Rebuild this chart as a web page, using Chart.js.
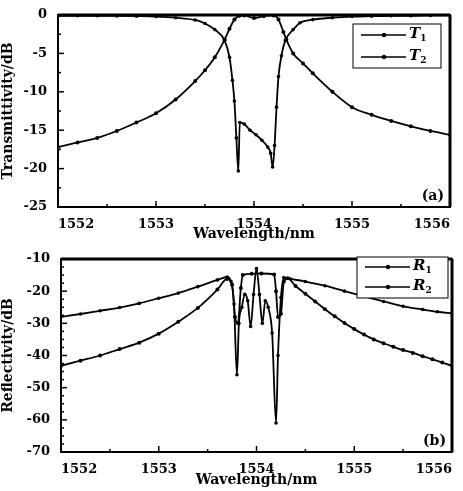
<!DOCTYPE html>
<html lang="en">
<head>
<meta charset="UTF-8">
<title>Transmittivity and reflectivity vs wavelength</title>
<script src="https://cdn.jsdelivr.net/npm/chart.js@4/dist/chart.umd.min.js"></script>
<style>
    body { margin: 0; background: #fff; }
    .panel { position: relative; width: 463px; }
    #panelA { height: 245px; }
    #panelB { height: 246px; }
</style>
</head>
<body>
<div class="panel" id="panelA"><canvas id="chartA"></canvas></div>
<div class="panel" id="panelB"><canvas id="chartB"></canvas></div>
<script>
// (a) transmittivity, dB
const T1_WL = [1552.0, 1552.2, 1552.4, 1552.6, 1552.8, 1553.0, 1553.2, 1553.4, 1553.5, 1553.6, 1553.7, 1553.75, 1553.78, 1553.8, 1553.82, 1553.84, 1553.855, 1553.9, 1553.96, 1554.02, 1554.08, 1554.14, 1554.17, 1554.19, 1554.21, 1554.23, 1554.25, 1554.28, 1554.32, 1554.4, 1554.47, 1554.6, 1554.8, 1555.0, 1555.2, 1555.4, 1555.6, 1555.8, 1556.0];
const T1_DB = [-0.1, -0.1, -0.1, -0.12, -0.15, -0.2, -0.35, -0.65, -1.1, -1.9, -3.3, -5.5, -8.5, -11.2, -16, -20.3, -14.0, -14.2, -15.0, -15.6, -16.3, -17.2, -18, -19.8, -17, -12, -8, -5.3, -3.3, -1.9, -1.0, -0.6, -0.35, -0.2, -0.15, -0.1, -0.1, -0.05, -0.05];
const T2_WL = [1552.0, 1552.2, 1552.4, 1552.6, 1552.8, 1553.0, 1553.2, 1553.4, 1553.5, 1553.6, 1553.7, 1553.75, 1553.8, 1553.85, 1553.9, 1554.0, 1554.1, 1554.2, 1554.25, 1554.3, 1554.33, 1554.4, 1554.5, 1554.6, 1554.8, 1555.0, 1555.2, 1555.4, 1555.6, 1555.8, 1556.0];
const T2_DB = [-17.2, -16.6, -16.0, -15.1, -14.0, -12.8, -11.0, -8.6, -7.2, -5.5, -3.2, -1.8, -0.6, -0.1, -0.05, -0.4, -0.15, -0.05, -0.6, -2.2, -3.2, -5.0, -6.3, -7.6, -10.0, -12.0, -13.0, -13.8, -14.5, -15.1, -15.6];

// (b) reflectivity, dB
const R1_WL = [1552.0, 1552.2, 1552.4, 1552.6, 1552.8, 1553.0, 1553.2, 1553.4, 1553.6, 1553.7, 1553.74, 1553.77, 1553.8, 1553.82, 1553.85, 1553.88, 1553.91, 1553.94, 1553.97, 1554.0, 1554.03, 1554.06, 1554.09, 1554.12, 1554.16, 1554.2, 1554.22, 1554.25, 1554.28, 1554.35, 1554.5, 1554.7, 1554.9, 1555.1, 1555.3, 1555.5, 1555.7, 1555.85, 1556.0];
const R1_DB = [-28, -27.1, -26.1, -25.1, -23.8, -22.2, -20.6, -18.6, -16.5, -15.6, -17, -24, -46, -30, -25, -21, -23, -31, -21, -13, -21, -30, -23, -25, -33, -61, -40, -22, -15.8, -16.2, -17, -18.3, -20, -21.6, -23.2, -24.7, -25.7, -26.4, -26.9];
const R2_WL = [1552.0, 1552.2, 1552.4, 1552.6, 1552.8, 1553.0, 1553.2, 1553.4, 1553.6, 1553.7, 1553.75, 1553.78, 1553.81, 1553.84, 1553.86, 1553.95, 1554.05, 1554.18, 1554.2, 1554.22, 1554.25, 1554.28, 1554.32, 1554.4, 1554.5, 1554.6, 1554.7, 1554.8, 1554.9, 1555.0, 1555.1, 1555.2, 1555.3, 1555.4, 1555.5, 1555.6, 1555.7, 1555.8, 1555.9, 1556.0];
const R2_DB = [-43.2, -41.6, -40, -38, -36, -33.2, -29.5, -25.2, -19.5, -16.2, -18, -28, -30, -19, -15, -14.6, -14.5, -14.8, -20, -28, -27, -17, -16, -18.4, -20.8, -23.2, -25.6, -27.8, -29.9, -31.8, -33.5, -35, -36.2, -37.3, -38.3, -39.2, -40.2, -41.2, -42.2, -43.2];

const X_TICKS = [1552, 1553, 1554, 1555, 1556];
const T_TICKS = [0, -5, -10, -15, -20, -25];
const R_TICKS = [-10, -20, -30, -40, -50, -60, -70];

const SERIF = "'DejaVu Serif', 'Liberation Serif', serif";
const pts = (xs, ys) => xs.map((w, i) => ({ x: w, y: ys[i] }));

// frame, inward ticks, boxed legend and panel tag
const panelDecor = {
    id: 'panelDecor',
    afterDatasetsDraw(chart, args, opts) {
        const { ctx, chartArea: a, scales: { x, y } } = chart;
        ctx.save();
        ctx.strokeStyle = '#000';
        ctx.fillStyle = '#000';
        ctx.lineWidth = 1.5;
        const seg = (x1, y1, x2, y2) => { ctx.beginPath(); ctx.moveTo(x1, y1); ctx.lineTo(x2, y2); ctx.stroke(); };

        for (let v = x.min; v <= x.max + 1e-9; v += opts.minorX) {
            const px = x.getPixelForValue(v);
            const major = X_TICKS.some(t => Math.abs(t - v) < 1e-6);
            seg(px, a.bottom, px, a.bottom - (major ? 6 : 3));
        }
        for (let v = y.max; v >= y.min - 1e-9; v -= opts.minorY) {
            const py = y.getPixelForValue(v);
            const major = opts.majorY.some(t => Math.abs(t - v) < 1e-6);
            seg(a.left, py, a.left + (major ? 6 : 3), py);
        }

        ctx.lineWidth = 2;
        ctx.strokeRect(a.left, a.top, a.width, a.height);
        ctx.lineWidth = 3;
        seg(a.left, a.top, a.right, a.top);
        seg(a.right, a.top, a.right, a.bottom);

        // legend box
        const L = opts.legend;
        const bx = a.right - L.right, by = a.top + L.top;
        ctx.fillStyle = '#fff';
        ctx.fillRect(bx, by, L.w, L.h);
        ctx.lineWidth = 1;
        ctx.strokeRect(bx, by, L.w, L.h);
        ctx.fillStyle = '#000';
        chart.data.datasets.forEach((ds, i) => {
            const ry = by + L.rows[i];
            ctx.lineWidth = 1.5;
            seg(bx + 8, ry, bx + 53, ry);
            ctx.beginPath();
            ctx.arc(bx + 31, ry, 2.2, 0, Math.PI * 2);
            ctx.fill();
            ctx.textBaseline = 'middle';
            ctx.textAlign = 'left';
            ctx.font = "italic bold 15px " + SERIF;
            ctx.fillText(ds.label[0], bx + 56, ry - 1);
            const w = ctx.measureText(ds.label[0]).width;
            ctx.font = "bold 9px " + SERIF;
            ctx.fillText(ds.label.slice(1), bx + 56 + w, ry + 4);
        });

        ctx.font = "bold 14px " + SERIF;
        ctx.textAlign = 'right';
        ctx.textBaseline = 'alphabetic';
        ctx.fillText(opts.tag, a.right - 6, a.bottom - 7);
        ctx.restore();
    }
};

function makeChart(id, cfg) {
    const font = { family: SERIF, size: 13, weight: 'bold' };
    return new Chart(document.getElementById(id), {
        type: 'line',
        data: {
            datasets: cfg.series.map((s, i) => ({
                label: s.label,
                data: s.data,
                borderColor: '#000',
                backgroundColor: '#000',
                borderWidth: 1.8,
                pointRadius: i === 0 ? 1.8 : 2,
                pointStyle: 'circle',
                pointBorderWidth: 0,
                cubicInterpolationMode: 'monotone',
                fill: false
            }))
        },
        options: {
            responsive: true,
            maintainAspectRatio: false,
            animation: false,
            layout: { padding: { top: cfg.padTop, right: cfg.padRight, left: 0, bottom: 0 } },
            plugins: {
                legend: { display: false },
                tooltip: { enabled: false },
                panelDecor: cfg.decor
            },
            scales: {
                x: {
                    type: 'linear',
                    min: 1552, max: 1556,
                    afterBuildTicks: s => { s.ticks = X_TICKS.map(v => ({ value: v })); },
                    afterFit: s => { s.height = cfg.xHeight; },
                    grid: { display: false },
                    border: { display: false },
                    ticks: { color: '#000', font, align: 'inner', padding: 2, maxRotation: 0, callback: v => String(v) },
                    title: { display: true, text: 'Wavelength/nm', color: '#000', font: { family: SERIF, size: 14, weight: 'bold' }, padding: { top: 0, bottom: 2 } }
                },
                y: {
                    min: cfg.yMin, max: cfg.yMax,
                    afterBuildTicks: s => { s.ticks = cfg.yTicks.map(v => ({ value: v })); },
                    afterFit: s => { s.width = cfg.yWidth; },
                    grid: { display: false },
                    border: { display: false },
                    ticks: { color: '#000', font, padding: 3, callback: v => String(v) },
                    title: { display: true, text: cfg.yTitle, color: '#000', font: { family: SERIF, size: 14, weight: 'bold' }, padding: { top: 0, bottom: 2 } }
                }
            }
        },
        plugins: [panelDecor]
    });
}

makeChart('chartA', {
    series: [
        { label: 'T1', data: pts(T1_WL, T1_DB) },
        { label: 'T2', data: pts(T2_WL, T2_DB) }
    ],
    yMin: -25, yMax: 0, yTicks: T_TICKS, yTitle: 'Transmittivity/dB',
    padTop: 15, padRight: 13, yWidth: 58, xHeight: 38,
    decor: { minorX: 0.5, minorY: 2.5, majorY: T_TICKS, tag: '(a)',
             legend: { right: 97, top: 9, w: 88, h: 44, rows: [11, 33] } }
});

makeChart('chartB', {
    series: [
        { label: 'R1', data: pts(R1_WL, R1_DB) },
        { label: 'R2', data: pts(R2_WL, R2_DB) }
    ],
    yMin: -70, yMax: -10, yTicks: R_TICKS, yTitle: 'Reflectivity/dB',
    padTop: 14, padRight: 11, yWidth: 61, xHeight: 39,
    decor: { minorX: 0.5, minorY: 2.5, majorY: R_TICKS, tag: '(b)',
             legend: { right: 95, top: -2, w: 91, h: 41, rows: [10, 30] } }
});
</script>
</body>
</html>
